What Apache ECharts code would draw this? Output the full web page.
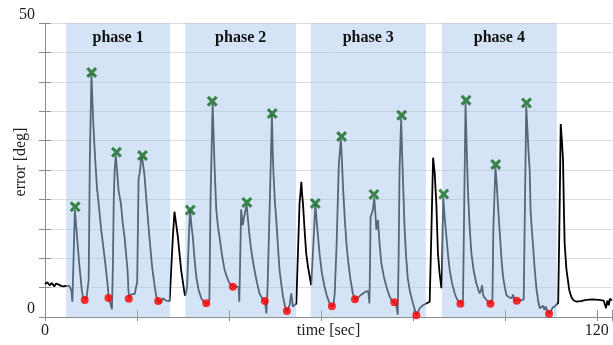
<!DOCTYPE html>
<html>
<head>
<meta charset="utf-8">
<script src="https://cdn.jsdelivr.net/npm/echarts@6/dist/echarts.min.js"></script>
<style>
  html, body { margin: 0; padding: 0; background: #fff; }
  #chart { width: 613px; height: 345px; }
</style>
</head>
<body>
<div id="chart"></div>
<script>
// trace (seconds, degrees)
const timeSec = [
  0, 0.5, 1.0, 1.5, 2.0, 2.4, 3.0, 3.5, 4.0, 4.6, 5.3, 5.75, 5.95, 6.2, 6.5, 6.85, 7.2, 7.5, 8.0, 8.3,
  8.65, 9.0, 9.3, 9.5, 9.75, 10.1, 10.5, 10.9, 11.3, 11.7, 12.2, 12.7, 13.2, 13.6, 13.85, 14.2, 14.55, 14.75, 14.95, 15.15,
  15.4, 15.7, 16.0, 16.5, 16.9, 17.3, 17.65, 17.95, 18.15, 18.3, 18.8, 19.5, 19.9, 20.05, 20.35, 20.6, 20.9, 21.1, 21.6, 22.1,
  22.7, 23.3, 23.8, 24.2, 24.6, 25.25, 25.6, 26.3, 27.1,
  27.3, 27.8, 28.15, 28.4, 28.9, 29.6, 30.35, 30.5,
  30.9, 31.3, 31.55, 31.85, 32.15, 32.5, 32.9, 33.4, 34.0, 34.5, 35.05, 35.5, 35.75, 36.0, 36.45, 36.7, 36.9, 37.25, 37.6, 37.95,
  38.5, 39.05, 39.6, 40.15, 40.85, 41.5, 42.1, 42.25, 42.4, 42.65, 43.0, 43.3, 43.85, 44.15, 44.5, 45.0, 45.55, 46.1, 46.65, 47.2,
  47.8, 48.05, 48.15, 48.4, 48.9, 49.35, 49.5, 49.65, 50.0, 50.3, 50.7, 51.0, 51.4, 51.75, 52.25, 52.6, 53.2, 53.55, 53.9, 54.65,
  55.0, 55.35, 55.55, 55.75, 55.9, 56.1, 56.45, 56.8, 57.2, 57.55, 57.9,
  58.2, 58.8, 59.1, 59.4, 59.7, 60.2, 60.8, 61.3, 61.9, 62.4, 62.75, 63.0, 63.4, 63.9, 64.35, 64.6, 64.85, 65.2, 65.55, 65.9,
  66.4, 66.95, 67.4, 68.0, 68.6, 69.15, 69.7, 70.3, 70.55, 70.7, 70.8, 71.3, 71.6, 71.9, 72.05, 72.4, 72.75, 73.15, 73.7, 74.25,
  74.8, 75.3, 75.95, 76.4, 76.7, 76.9, 77.1, 77.45, 77.65, 77.9, 78.2, 78.5, 78.9, 79.4, 80.0, 80.75, 81.5, 82.2, 82.9,
  83.3, 83.65, 84.0, 84.25, 84.4, 84.75, 85.1, 85.45, 85.8, 86.2,
  86.35, 86.6, 86.9, 87.3, 87.65, 88.0, 88.5, 89.1, 89.6, 90.2, 90.35, 90.7, 90.9, 91.1, 91.45, 91.7, 91.95, 92.3, 92.7, 93.2,
  93.8, 94.5, 94.85, 95.05, 95.25, 95.5, 96.3, 96.85, 97.1, 97.3, 97.5, 97.95, 98.2, 98.5, 98.95, 99.3, 99.6, 100.0, 100.35, 101.0,
  101.5, 101.8, 102.1, 102.6, 103.3, 103.65, 104.1, 104.3, 104.65, 104.9, 105.15, 105.4, 105.6, 105.85, 106.1, 106.5, 106.9, 107.3, 107.6, 108.0,
  108.3, 108.6, 108.9, 109.2, 109.6, 110.0, 110.4, 110.85, 111.2,
  111.6, 111.85, 112.15, 112.4, 112.65, 112.85, 113.0, 113.4, 114.0, 114.5, 115.0, 115.6, 116.5, 117.7, 119, 120.5, 121.5, 121.8, 122.0, 122.3,
  122.6, 122.85, 123.3
];
const errorDeg = [
  5.6, 5.9, 5.4, 5.8, 5.2, 5.7, 5.5, 5.3, 5.2, 5.3, 5.3, 4.5, 2.6, 9.7, 18.2, 14.8, 11.4, 8.6, 4.6, 3.2,
  2.9, 3.1, 3.2, 6.3, 26.7, 41.3, 33, 27, 22, 19, 15, 11.8, 8.5, 5.6, 3.3, 3.2, 1.3, 8, 20, 25,
  27.5, 24.5, 21.5, 19.3, 16, 13.6, 10.5, 8, 4.5, 3.2, 3.9, 3.9, 3.6, 6, 23.5, 24.5, 26.7, 27.2, 24.4, 19.4,
  13.6, 8.5, 5.5, 3.5, 2.7, 2.4, 3.2, 2.8, 2.7,
  2.9, 13.6, 17.9, 16.5, 13.6, 8.0, 4.0, 3.6,
  5, 14, 18.3, 15.5, 13.6, 10, 6.8, 4.6, 3.2, 2.6, 2.3, 2.4, 3, 20, 36.3, 30, 25, 18.2, 15.5, 13.6,
  10.5, 8, 6.7, 5.7, 5.15, 5.2, 5.1, 2.6, 8, 18.3, 15.6, 17, 19.1, 16.5, 13.6, 10.5, 8, 5.8, 4, 3.2,
  2.7, 2.5, 0.6, 5, 20, 34.4, 29, 25, 19.5, 16.5, 11.5, 8, 5.5, 3.5, 1.6, 1.0, 2.0, 4.0, 1.75, 2.3,
  10.8, 19.3, 21, 23, 21, 19.3, 14.8, 10.8, 8.5, 6.9, 5.4,
  10, 19.2, 16, 13.5, 10.8, 7.5, 5.1, 3.6, 2.3, 1.8, 2.2, 4, 12, 26, 30.2, 26, 21.5, 16.5, 12.5, 9.7,
  6.5, 4.0, 3.0, 3.2, 3.7, 4.0, 4.3, 4.4, 2.3, 10, 17, 18.2, 20.3, 17, 14.8, 16.5, 12.5, 9.1, 6.8, 5.15,
  3.8, 2.9, 2.5, 2.0, 0.4, 10, 25, 33.8, 28, 22, 15, 10.5, 6.5, 4.2, 2.4, 0.3, 1.5, 2.0, 2.3,
  2.3, 2.6, 13.6, 22.1, 27.1, 24.4, 19.3, 10.8, 7.5, 4.9,
  8, 20.5, 17, 13.6, 10.5, 8, 5.8, 4.0, 3.0, 2.5, 2.3, 2.4, 3, 15, 36.4, 29, 22, 16, 11, 8,
  5.7, 4.0, 4.6, 5.4, 3.8, 3.4, 2.6, 2.3, 2.4, 3, 15, 25.5, 23, 19, 13.6, 9.5, 6.9, 5, 3.7, 3.3,
  3.2, 3.8, 3.0, 2.8, 2.8, 2.7, 3, 15, 35.9, 32, 28, 25, 18, 15, 12.5, 8, 4.6, 2.5, 1.5, 1.2,
  1.9, 1.2, 1.8, 1.1, 0.6, 1.0, 1.6, 1.8, 2.0,
  2.4, 15, 32.8, 30, 26.7, 18, 12.5, 8, 4.6, 3.3, 2.8, 2.6, 2.7, 2.9, 3.0, 2.9, 2.8, 2.5, 1.5, 2.8,
  2.0, 3.1, 2.8
];

const phaseNames = ['phase 1', 'phase 2', 'phase 3', 'phase 4'];
const phaseStart = [4.6, 30.5, 57.8, 86.3];
const phaseEnd = [27.2, 54.6, 82.8, 111.3];

// green crosses (peaks) and red dots (troughs)
const peakTime = [6.55, 10.16, 15.54, 21.2, 31.58, 36.37, 43.9, 49.42, 58.78, 64.5, 71.53, 77.56, 86.7, 91.56, 98.02, 104.7];
const peakError = [18.74, 41.57, 28.03, 27.47, 18.18, 36.7, 19.49, 34.61, 19.32, 30.7, 20.85, 34.32, 20.9, 36.87, 25.94, 36.41];
const troughTime = [8.64, 13.8, 18.22, 24.61, 35.06, 40.85, 47.81, 52.6, 62.39, 67.4, 75.97, 80.76, 90.34, 96.87, 102.59, 109.6];
const troughError = [2.89, 3.23, 3.11, 2.72, 2.33, 5.15, 2.72, 1.02, 1.82, 3.01, 2.5, 0.29, 2.26, 2.26, 2.77, 0.56];

const xTickLabels = [0, 120];
const yTickLabels = [0, 50];

const serif = "'Liberation Serif', 'DejaVu Serif', serif";
const traceColor = '#56667b';
const axisGray = '#8c8c8c';

const chart = echarts.init(document.getElementById('chart'));

chart.setOption({
  animation: false,
  grid: { left: 45, right: 1, top: 23, bottom: 28, containLabel: false, outerBoundsMode: 'none' },
  xAxis: [
    {
      type: 'value', min: 0, max: 123.3, interval: 20,
      name: 'time [sec]', nameLocation: 'middle', nameGap: 6, nameMoveOverlap: false,
      nameTextStyle: { fontFamily: serif, fontSize: 16, color: '#222', verticalAlign: 'top' },
      axisLine: { lineStyle: { color: axisGray } },
      axisTick: { inside: true, length: 7, lineStyle: { color: axisGray } },
      axisLabel: {
        margin: 6, fontFamily: serif, fontSize: 16, color: '#222',
        formatter: (v) => (xTickLabels.includes(v) ? String(v) : '')
      },
      splitLine: { show: false }
    },
    {
      type: 'value', position: 'top', min: 0, max: 123.3, interval: 20,
      axisLine: { show: false },
      axisTick: { inside: true, length: 4, lineStyle: { color: axisGray } },
      axisLabel: { show: false },
      splitLine: { show: false }
    }
  ],
  yAxis: [
    {
      type: 'value', min: 0, max: 50, interval: 5,
      name: 'error [deg]', nameLocation: 'middle', nameGap: 16, nameRotate: 90, nameMoveOverlap: false,
      nameTextStyle: { fontFamily: serif, fontSize: 16, color: '#222', padding: [0, 0, 0, 16] },
      axisLine: { show: true, lineStyle: { color: axisGray } },
      axisTick: { show: true, inside: true, length: 6, lineStyle: { color: axisGray } },
      axisLabel: {
        margin: 10, fontFamily: serif, fontSize: 16, color: '#222', verticalAlign: 'bottom',
        formatter: (v) => (yTickLabels.includes(v) ? String(v) : '')
      },
      splitLine: { lineStyle: { color: '#dcdcdc', width: 1 } }
    },
    {
      type: 'value', position: 'right', min: 0, max: 50, interval: 5,
      axisLine: { show: false },
      axisTick: { show: true, inside: true, length: 6, lineStyle: { color: axisGray } },
      axisLabel: { show: false },
      splitLine: { show: false }
    }
  ],
  visualMap: {
    show: false,
    type: 'piecewise',
    seriesIndex: 0,
    dimension: 0,
    pieces: phaseStart.map((s, i) => ({ gte: s, lte: phaseEnd[i], color: traceColor })),
    outOfRange: { color: '#000' }
  },
  series: [
    {
      type: 'line',
      data: timeSec.map((t, i) => [t, errorDeg[i]]),
      showSymbol: false,
      lineStyle: { width: 1.8 },
      z: 3
    },
    {
      type: 'line',
      data: [],
      silent: true,
      z: 1,
      markArea: {
        silent: true,
        itemStyle: { color: 'rgba(160,196,234,0.45)' },
        label: {
          show: true, position: 'insideTop', distance: 7,
          fontFamily: serif, fontSize: 16, fontWeight: 'bold', color: '#111'
        },
        data: phaseNames.map((n, i) => [{ name: n, xAxis: phaseStart[i] }, { xAxis: phaseEnd[i] }])
      }
    },
    {
      type: 'scatter',
      data: troughTime.map((t, i) => [t, troughError[i]]),
      symbol: 'circle',
      symbolSize: 8,
      itemStyle: { color: '#ff0000' },
      z: 5
    },
    {
      type: 'scatter',
      data: peakTime.map((t, i) => [t, peakError[i]]),
      symbol: 'path://M0,2L2,0L5,3L8,0L10,2L7,5L10,8L8,10L5,7L2,10L0,8L3,5Z',
      symbolSize: 11,
      itemStyle: { color: '#136b1f' },
      z: 5
    }
  ]
});
</script>
</body>
</html>
